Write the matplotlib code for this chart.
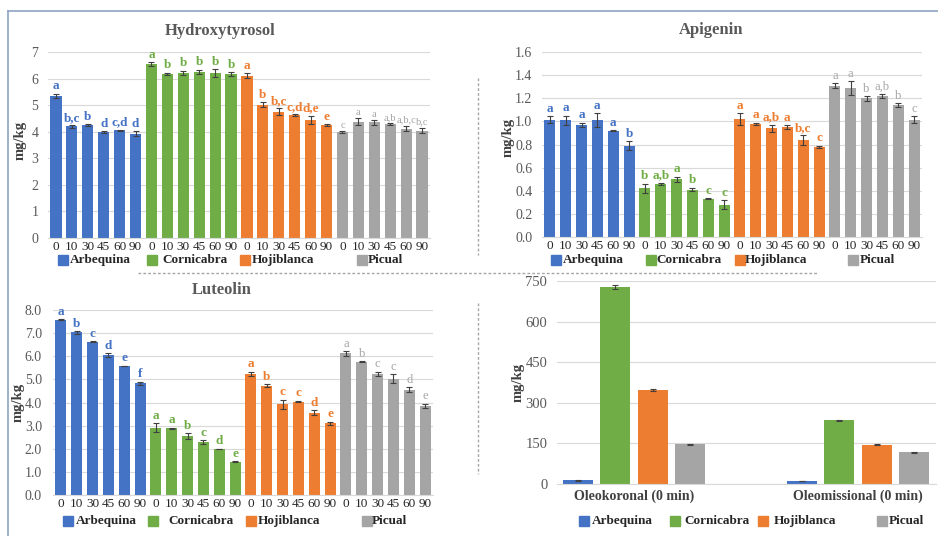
import matplotlib
matplotlib.use("Agg")
import matplotlib.pyplot as plt
from matplotlib.patches import Rectangle
from matplotlib.lines import Line2D
import numpy as np

plt.rcParams['font.family'] = ['Liberation Serif', 'DejaVu Serif']

W, H = 938, 536

cultivars = ["Arbequina", "Cornicabra", "Hojiblanca", "Picual"]
times = ["0", "10", "30", "45", "60", "90"]
bar_colors = ["#4472C4", "#70AD47", "#ED7D31", "#A5A5A5"]

# Hydroxytyrosol (mg/kg) by cultivar and malaxation time
hyd_arbequina = [5.35, 4.20, 4.25, 4.00, 4.05, 3.93]
hyd_cornicabra = [6.55, 6.17, 6.22, 6.25, 6.20, 6.17]
hyd_hojiblanca = [6.11, 5.02, 4.76, 4.63, 4.45, 4.25]
hyd_picual = [4.00, 4.38, 4.35, 4.29, 4.12, 4.04]
hyd_err_arbequina = [0.08, 0.05, 0.03, 0.03, 0.02, 0.10]
hyd_err_cornicabra = [0.08, 0.05, 0.08, 0.08, 0.15, 0.08]
hyd_err_hojiblanca = [0.10, 0.08, 0.12, 0.02, 0.15, 0.03]
hyd_err_picual = [0.03, 0.12, 0.08, 0.02, 0.10, 0.10]
hyd_let_arbequina = ["a", "b,c", "b", "d", "c,d", "d"]
hyd_let_cornicabra = ["a", "b", "b", "b", "b", "b"]
hyd_let_hojiblanca = ["a", "b", "b,c", "c,d", "d,e", "e"]
hyd_let_picual = ["c", "a", "a", "a,b", "a,b,c", "b,c"]

# Apigenin (mg/kg)
api_arbequina = [1.015, 1.01, 0.97, 1.01, 0.92, 0.79]
api_cornicabra = [0.42, 0.46, 0.50, 0.41, 0.33, 0.28]
api_hojiblanca = [1.02, 0.98, 0.94, 0.95, 0.84, 0.78]
api_picual = [1.31, 1.29, 1.20, 1.22, 1.14, 1.015]
api_err_arbequina = [0.03, 0.04, 0.02, 0.06, 0.005, 0.04]
api_err_cornicabra = [0.04, 0.01, 0.02, 0.015, 0.005, 0.04]
api_err_hojiblanca = [0.05, 0.01, 0.03, 0.015, 0.04, 0.01]
api_err_picual = [0.02, 0.06, 0.02, 0.02, 0.015, 0.03]
api_let_arbequina = ["a", "a", "a", "a", "a", "b"]
api_let_cornicabra = ["b", "a,b", "a", "b", "c", "c"]
api_let_hojiblanca = ["a", "a", "a,b", "a", "b,c", "c"]
api_let_picual = ["a", "a", "b", "a,b", "b", "c"]

# Luteolin (mg/kg)
lut_arbequina = [7.58, 7.03, 6.63, 6.05, 5.58, 4.83]
lut_cornicabra = [2.91, 2.88, 2.55, 2.29, 1.99, 1.44]
lut_hojiblanca = [5.23, 4.73, 3.92, 4.04, 3.56, 3.10]
lut_picual = [6.12, 5.76, 5.24, 5.03, 4.55, 3.85]
lut_err_arbequina = [0.02, 0.05, 0.03, 0.07, 0.02, 0.07]
lut_err_cornicabra = [0.20, 0.03, 0.12, 0.08, 0.02, 0.03]
lut_err_hojiblanca = [0.10, 0.05, 0.20, 0.03, 0.12, 0.07]
lut_err_picual = [0.10, 0.02, 0.10, 0.20, 0.10, 0.10]
lut_let_arbequina = ["a", "b", "c", "d", "e", "f"]
lut_let_cornicabra = ["a", "a", "b", "c", "d", "e"]
lut_let_hojiblanca = ["a", "b", "c", "c", "d", "e"]
lut_let_picual = ["a", "b", "c", "c", "d", "e"]

# Oleokoronal and oleomissional at 0 min (mg/kg)
secoiridoids = ["Oleokoronal (0 min)", "Oleomissional (0 min)"]
oleokoronal = [13.5, 728, 348, 147]
oleomissional = [11, 235, 145, 118]
oleokoronal_err = [2, 8, 4, 2]
oleomissional_err = [1, 1.5, 1.5, 2]

TEXT_GREY = "#595959"
GRID = "#D9D9D9"


def fx(px):
    return px / W


def fy(py):
    return 1 - py / H


def add_axes_px(fig, x0, y0, x1, y1):
    return fig.add_axes([fx(x0), fy(y1), fx(x1) - fx(x0), (y1 - y0) / H])


def style_axes(ax):
    for s in ("top", "right", "left"):
        ax.spines[s].set_visible(False)
    ax.spines["bottom"].set_color(GRID)
    ax.spines["bottom"].set_linewidth(0.8)
    ax.yaxis.grid(True, color=GRID, linewidth=0.8)
    ax.set_axisbelow(True)
    ax.tick_params(axis="both", length=0, colors=TEXT_GREY)


def time_panel(fig, box, vals, errs, lets, ymax, ystep, fmt, label_pad, ypad,
               grey_size=9):
    ax = add_axes_px(fig, *box)
    values = sum(vals, [])
    errors = sum(errs, [])
    letters = sum(lets, [])
    colors = [c for c in bar_colors for _ in times]
    x = np.arange(len(values))
    ax.bar(x, values, width=0.7, color=colors, yerr=errors,
           error_kw=dict(ecolor="#404040", elinewidth=0.8, capsize=2, capthick=0.8))
    for i, (v, e, t) in enumerate(zip(values, errors, letters)):
        grp = i // len(times)
        picual = grp == 3
        ax.text(i, v + e + label_pad, t, ha="center", va="bottom",
                color=bar_colors[grp], fontsize=grey_size if picual else 9.5,
                fontweight="normal" if picual else "bold")
    ax.set_xlim(-0.5, len(values) - 0.5)
    ax.set_ylim(0, ymax)
    ax.set_xticks(x)
    ax.set_xticklabels(times * len(cultivars), fontsize=9.5)
    yt = np.arange(0, ymax + ystep / 2, ystep)
    ax.set_yticks(yt)
    ax.set_yticklabels([fmt.format(v) for v in yt], fontsize=10)
    style_axes(ax)
    ax.tick_params(axis="x", pad=2, colors="#262626")
    ax.tick_params(axis="y", pad=ypad)
    return ax


def legend_px(fig, y, square_xs, text_xs):
    for name, col, sx, tx in zip(cultivars, bar_colors, square_xs, text_xs):
        fig.patches.append(Rectangle((fx(sx), fy(y + 5)), 10 / W, 10 / H,
                                     transform=fig.transFigure, color=col))
        fig.text(fx(tx), fy(y), name, ha="left", va="center", fontsize=9.5,
                 fontweight="bold", color="#262626")


def ylabel_px(fig, x, y):
    fig.text(fx(x), fy(y), "mg/kg", rotation=90, ha="center", va="center",
             fontsize=10.5, fontweight="bold", color="#404040")


fig = plt.figure(figsize=(W / 100, H / 100), dpi=100)

# Hydroxytyrosol
time_panel(fig, (48, 52, 430, 238),
           [hyd_arbequina, hyd_cornicabra, hyd_hojiblanca, hyd_picual],
           [hyd_err_arbequina, hyd_err_cornicabra, hyd_err_hojiblanca, hyd_err_picual],
           [hyd_let_arbequina, hyd_let_cornicabra, hyd_let_hojiblanca, hyd_let_picual],
           7, 1, "{:.0f}", 0.05, 7, grey_size=7.5)
fig.text(fx(220), fy(31), "Hydroxytyrosol", ha="center", va="center",
         fontsize=12, fontweight="bold", color=TEXT_GREY)
ylabel_px(fig, 20, 140)
legend_px(fig, 260, [58, 147, 240, 357], [70, 162, 252, 368])

# Apigenin
time_panel(fig, (542, 52, 922, 237),
           [api_arbequina, api_cornicabra, api_hojiblanca, api_picual],
           [api_err_arbequina, api_err_cornicabra, api_err_hojiblanca, api_err_picual],
           [api_let_arbequina, api_let_cornicabra, api_let_hojiblanca, api_let_picual],
           1.6, 0.2, "{:.1f}", 0.012, 7)
fig.text(fx(711), fy(30), "Apigenin", ha="center", va="center",
         fontsize=12, fontweight="bold", color=TEXT_GREY)
ylabel_px(fig, 508, 137)
legend_px(fig, 260, [551, 646, 735, 848], [563, 656, 745, 860])

# Luteolin
time_panel(fig, (53, 310, 433, 495),
           [lut_arbequina, lut_cornicabra, lut_hojiblanca, lut_picual],
           [lut_err_arbequina, lut_err_cornicabra, lut_err_hojiblanca, lut_err_picual],
           [lut_let_arbequina, lut_let_cornicabra, lut_let_hojiblanca, lut_let_picual],
           8, 1, "{:.1f}", 0.06, 8)
fig.text(fx(222), fy(290), "Luteolin", ha="center", va="center",
         fontsize=12, fontweight="bold", color=TEXT_GREY)
ylabel_px(fig, 18, 402)
legend_px(fig, 521, [63, 148, 246, 362], [76, 168, 258, 372])

# Oleokoronal / Oleomissional
ax = add_axes_px(fig, 557, 281, 936, 484)
gx = np.arange(len(secoiridoids))
step, bw = 0.167, 0.134
for k, col in enumerate(bar_colors):
    ax.bar(gx + (k - 1.5) * step, [oleokoronal[k], oleomissional[k]], width=bw,
           color=col, yerr=[oleokoronal_err[k], oleomissional_err[k]],
           error_kw=dict(ecolor="#404040", elinewidth=0.8, capsize=2.5, capthick=0.8))
ax.set_xlim(-0.344, 1.348)
ax.set_ylim(0, 750)
ax.set_yticks(np.arange(0, 751, 150))
ax.set_yticklabels([str(v) for v in range(0, 751, 150)], fontsize=10.5)
ax.set_xticks(gx)
ax.set_xticklabels(secoiridoids, fontsize=10, fontweight="bold", color="#404040")
style_axes(ax)
ax.tick_params(axis="x", colors="#404040", pad=4)
ax.tick_params(axis="y", pad=7)
ylabel_px(fig, 518, 382)
legend_px(fig, 521, [579, 670, 758, 877], [592, 684, 774, 889])

# Dividers and frame
dash = dict(color="#A6A6A6", linewidth=1.0, linestyle=(0, (2, 1.5)), transform=fig.transFigure)
fig.lines.append(Line2D([fx(138), fx(818)], [fy(273), fy(273)], **dash))
fig.lines.append(Line2D([fx(478), fx(478)], [fy(78), fy(255)], **dash))
fig.lines.append(Line2D([fx(478), fx(478)], [fy(303), fy(474)], **dash))
frame = dict(color="#8EA4C4", linewidth=1.2, transform=fig.transFigure)
fig.lines.append(Line2D([fx(8), fx(8)], [fy(11), 0], **frame))
fig.lines.append(Line2D([fx(8), 1], [fy(11), fy(11)], **frame))

fig.savefig("out.png", dpi=100)
